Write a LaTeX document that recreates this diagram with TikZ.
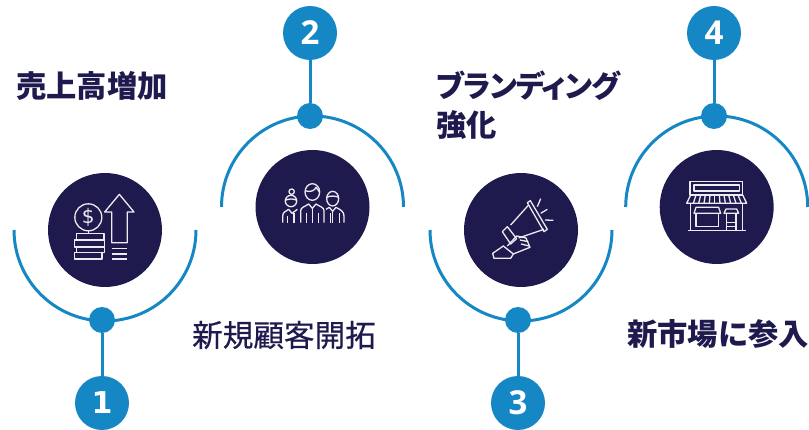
\documentclass[tikz,border=0pt]{standalone}
\usepackage{fontspec}
\newfontfamily\jp{Noto Sans CJK JP}
\newfontfamily\jpp[RawFeature={+palt},LetterSpace=-3.6]{Noto Sans CJK JP}
\newfontfamily\jpf[FakeBold=0.5]{Noto Sans CJK JP}
\newfontfamily\numf{Open Sans}
\newfontfamily\numo{DejaVu Sans}
\definecolor{blueC}{HTML}{1587C5}
\definecolor{navyC}{HTML}{1E1A4D}
\definecolor{iconC}{HTML}{EDEBF2}
\tikzset{
  dark/.style={circle,fill=navyC,inner sep=0,minimum size=114pt},
  dot/.style={circle,fill=blueC,inner sep=0,minimum size=26pt},
  num/.style={circle,fill=blueC,inner sep=0,minimum size=54pt,text=white,font=\numf\bfseries\fontsize{33}{33}\selectfont},
  ring/.style={draw=blueC,line width=3pt},
  link/.style={draw=blueC,line width=3pt},
  lab/.style={anchor=west,inner sep=0,text=navyC,font=\jp\bfseries\fontsize{30.3}{36}\selectfont},
  labk/.style={anchor=west,inner sep=0,text=navyC,font=\jpp\bfseries\fontsize{30.3}{36}\selectfont},
  labr/.style={anchor=west,inner sep=0,text=navyC,font=\jpf\fontsize{30.6}{36}\selectfont},
  ico/.style={draw=iconC,line width=1.3pt,line join=round},
  zoomA/.style={x=0.33333pt,y=-0.33333pt}
}
\begin{document}
\begin{tikzpicture}[x=1pt,y=-1pt]
\useasboundingbox (0,0) rectangle (809,430);
% panel 1
\node[dark] (c1) at (105,230) {};
\draw[ring] (14,230) arc[start angle=180,end angle=360,radius=91pt];
\node[num,font=\numo\bfseries\fontsize{30}{30}\selectfont] (n1) at (102,403) {1};
\node[dot] (d1) at (102,320) {};
\draw[link] (d1) -- (n1);
% panel 2
\node[dark] (c2) at (312.5,207) {};
\draw[ring] (221.5,207) arc[start angle=180,end angle=0,radius=91pt];
\node[num] (n2) at (310,33) {2};
\node[dot] (d2) at (310,116) {};
\draw[link] (d2) -- (n2);
% panel 3
\node[dark] (c3) at (521,230) {};
\draw[ring] (430,230) arc[start angle=180,end angle=360,radius=91pt];
\node[num] (n3) at (518,403) {3};
\node[dot] (d3) at (518,320) {};
\draw[link] (d3) -- (n3);
% panel 4
\node[dark] (c4) at (716.7,207) {};
\draw[ring] (625.7,207) arc[start angle=180,end angle=0,radius=91pt];
\node[num] (n4) at (714,33) {4};
\node[dot] (d4) at (714,116) {};
\draw[link] (d4) -- (n4);
% labels
\node[lab] (t1) at (16,86) {売上高増加};
\node[labr] (t2) at (192,335) {新規顧客開拓};
\node[labk] (t3a) at (436,86) {ブランディング};
\node[lab] (t3b) at (436,125) {強化};
\node[lab] (t4) at (627,334) {新市場に参入};
% icon 1
\begin{scope}[shift={(0,160)},zoomA,ico]
\draw[ico] (265,172) circle[radius=13.5pt];
\node[inner sep=0,text=iconC,font=\numo\fontsize{20}{20}\selectfont] (dollar) at (265,172) {\$};
\draw[ico] (265,212) -- (265,220);
\draw[ico] (230,220) rectangle (312,240);
\draw[ico] (224,240) rectangle (314,261);
\draw[ico] (230,261) rectangle (314,278);
\draw[ico] (224,278) rectangle (306,297);
\draw[ico] (358,103) -- (402,156) -- (382,156) -- (382,248) -- (335,248) -- (335,156) -- (314,156) -- cycle;
\draw[ico] (335,265) -- (382,265) (335,282) -- (382,282) (335,297) -- (382,297);
\end{scope}
% icon 2
\begin{scope}[shift={(210,0)},zoomA,ico]
\draw[ico] (307,576) ellipse[x radius=7.3pt,y radius=8.3pt];
\draw[ico] (285,572) .. controls (300,578) and (315,572) .. (318,562) .. controls (322,570) and (328,572) .. (329,577);
\draw[ico] (272,668) -- (272,632) .. controls (272,622) and (285,620) .. (296,612) -- (307,625) -- (318,612) .. controls (330,620) and (342,622) .. (342,632) -- (342,668);
\draw[ico] (290,638) -- (290,668) (325,638) -- (325,668) (307,625) -- (307,668);
\draw[ico] (243,603) circle[radius=5.7pt];
\draw[ico] (245,575) circle[radius=2.7pt];
\draw[ico] (228,600) .. controls (238,596) and (250,596) .. (258,600);
\draw[ico] (218,668) -- (218,648) .. controls (218,636) and (228,634) .. (236,628) -- (246,640) -- (262,628);
\draw[ico] (232,648) -- (232,668) (252,640) -- (252,668);
\draw[ico] (368,596) ellipse[x radius=6pt,y radius=7.3pt];
\draw[ico] (351,592) .. controls (358,586) and (378,588) .. (386,592);
\draw[ico] (348,628) -- (358,622) -- (368,634) -- (378,622) .. controls (392,630) and (402,634) .. (402,648) -- (402,668);
\draw[ico] (362,640) -- (362,668) (388,640) -- (388,668) (368,634) -- (368,668);
\end{scope}
% icon 3
\begin{scope}[shift={(420,160)},zoomA,ico]
\draw[ico] (322,128) -- (331,122) -- (382,208) -- (372,215) -- cycle;
\draw[ico] (325,136) -- (272,195) (372,208) -- (296,234);
\draw[ico] (247,215) -- (262,200) -- (290,236) -- (272,252) -- cycle;
\draw[ico] (262,258) -- (290,228) -- (318,234) -- (330,262) -- (300,274) -- (280,282);
\draw[ico] (300,240) -- (325,245) (303,252) -- (328,258);
\draw[ico] (218,280) -- (250,258) -- (280,282) -- (272,295) -- (222,295) -- cycle;
\draw[ico] (352,140) -- (362,116) (362,160) -- (382,148) (375,180) -- (400,181);
\end{scope}
% icon 4
\begin{scope}[shift={(620,0)},zoomA,ico]
\draw[ico] (210,545) rectangle (368,585);
\draw[ico] (222,555) rectangle (358,573);
\draw[ico] (212,585) -- (368,585) -- (380,610) -- (200,610) -- cycle;
\foreach \a/\b in {228/220,242/236,256/252,270/268,284/284,298/300,312/316,326/332,340/348,354/364}
  \draw[ico] (\a,585) -- (\b,610);
\draw[ico] (212,610) -- (212,691) (368,610) -- (368,691);
\draw[ico] (203,691) -- (377,691);
\draw[ico] (222,640) -- (228,622) -- (296,622) -- (302,640) -- cycle;
\draw[ico] (228,640) rectangle (296,680);
\draw[ico] (312,640) -- (318,627) -- (350,627) -- (356,640) -- cycle;
\draw[ico] (320,640) -- (320,691) (348,640) -- (348,691);
\draw[ico] (320,668) -- (348,668) (320,680) -- (348,680);
\end{scope}
\end{tikzpicture}
\end{document}
